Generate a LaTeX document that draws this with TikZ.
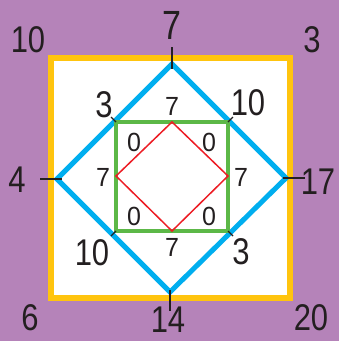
\documentclass[tikz,border=0pt]{standalone}
\usepackage{fontspec}
\setmainfont{Liberation Sans}
\definecolor{bgpurple}{RGB}{181,131,185}
\definecolor{frameyellow}{RGB}{255,196,14}
\definecolor{diamblue}{RGB}{0,174,239}
\definecolor{sqgreen}{RGB}{92,184,71}
\definecolor{diamred}{RGB}{237,28,36}
\definecolor{inkdark}{RGB}{35,31,32}
\begin{document}
\begin{tikzpicture}[x=1pt,y=-1pt,
  big/.style={inner sep=0pt,text=inkdark,font=\fontsize{31}{31}\selectfont,yscale=1.2,transform shape},
  small/.style={inner sep=0pt,text=inkdark,font=\fontsize{25}{25}\selectfont,yscale=1.05,transform shape},
  tickmark/.style={draw=inkdark,line width=2pt},
  smalltick/.style={draw=inkdark,line width=1.2pt}]
\useasboundingbox (0,0) rectangle (339,341);
\fill[bgpurple] (0,0) rectangle (339,341);
% yellow frame
\draw[frameyellow,fill=white,line width=5.5pt] (51,58) rectangle (290,298);
% blue diamond vertices
\coordinate (bt) at (172,64);
\coordinate (br) at (286,178);
\coordinate (bb) at (170,292);
\coordinate (bl) at (57,179);
\draw[diamblue,line width=5pt,line join=miter] (bt) -- (br) -- (bb) -- (bl) -- cycle;
% green square
\coordinate (gtl) at (116,122);
\coordinate (gtr) at (228,122);
\coordinate (gbr) at (228,231);
\coordinate (gbl) at (116,231);
\draw[sqgreen,line width=4pt] (gtl) -- (gtr) -- (gbr) -- (gbl) -- cycle;
% red diamond
\coordinate (rt) at (172,122);
\coordinate (rr) at (228,176);
\coordinate (rb) at (172,231);
\coordinate (rl) at (116,176);
\draw[diamred,line width=1.5pt] (rt) -- (rr) -- (rb) -- (rl) -- cycle;
% tick marks
\coordinate (tt1) at (172,47); \coordinate (tt2) at (172,69);
\coordinate (tl1) at (40,179); \coordinate (tl2) at (62,179);
\coordinate (tr1) at (283,178); \coordinate (tr2) at (305,178);
\coordinate (tb1) at (170,290); \coordinate (tb2) at (170,311);
\draw[tickmark] (tt1) -- (tt2);
\draw[tickmark] (tl1) -- (tl2);
\draw[tickmark] (tr1) -- (tr2);
\draw[tickmark] (tb1) -- (tb2);
\coordinate (dtl) at (111,117);
\coordinate (dtr) at (233,117);
\coordinate (dbl) at (111,236);
\coordinate (dbr) at (233,236);
\draw[smalltick] (gtl) -- (dtl);
\draw[smalltick] (gtr) -- (dtr);
\draw[smalltick] (gbl) -- (dbl);
\draw[smalltick] (gbr) -- (dbr);
% outer labels
\node[big] (l10a) at (28,40) {10};
\node[big,font=\fontsize{34}{34}\selectfont] (l7a) at (172,25) {7};
\node[big] (l3a) at (312,40) {3};
\node[big] (l4) at (17,180) {4};
\node[big] (l17) at (318,182) {17};
\node[big] (l6) at (30,318) {6};
\node[big] (l14) at (168,319.5) {14};
\node[big] (l20) at (311,318) {20};
% blue diamond side labels
\node[big] (l3b) at (104,105) {3};
\node[big] (l10b) at (248,103) {10};
\node[big] (l10c) at (92,253) {10};
\node[big] (l3c) at (241,252) {3};
% inner labels
\node[small] (s7t) at (172,106) {7};
\node[small] (s7l) at (103,177) {7};
\node[small] (s7r) at (241,177) {7};
\node[small] (s7b) at (172,247) {7};
\node[small] (s0a) at (134,142) {0};
\node[small] (s0b) at (209,142) {0};
\node[small] (s0c) at (134,216) {0};
\node[small] (s0d) at (209,216) {0};
\end{tikzpicture}
\end{document}
